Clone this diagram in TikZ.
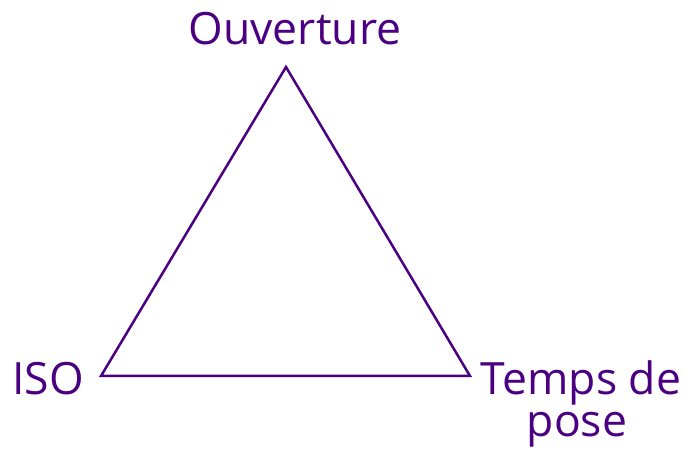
\documentclass[tikz,border=0pt]{standalone}
\usepackage{fontspec}
\setmainfont{Open Sans}
\definecolor{tri}{HTML}{4B0082}
\begin{document}
\begin{tikzpicture}[x=1pt,y=1pt,
  lbl/.style={text=tri,font=\fontsize{44.5}{50}\selectfont,inner sep=0pt,anchor=base,align=center}]
\useasboundingbox (0,0) rectangle (685,465);
\coordinate (T) at (286,398);
\coordinate (L) at (101,89);
\coordinate (R) at (470,89);
\draw[tri,line width=2.5pt,line join=miter] (T) -- (L) -- (R) -- cycle;
\node[lbl] (ouv) at (295,420) {Ouverture};
\node[lbl] (iso) at (48,70) {ISO};
\node[lbl] (tps) at (581,70) {Temps de};
\node[lbl] (pose) at (577,28) {pose};
\end{tikzpicture}
\end{document}
